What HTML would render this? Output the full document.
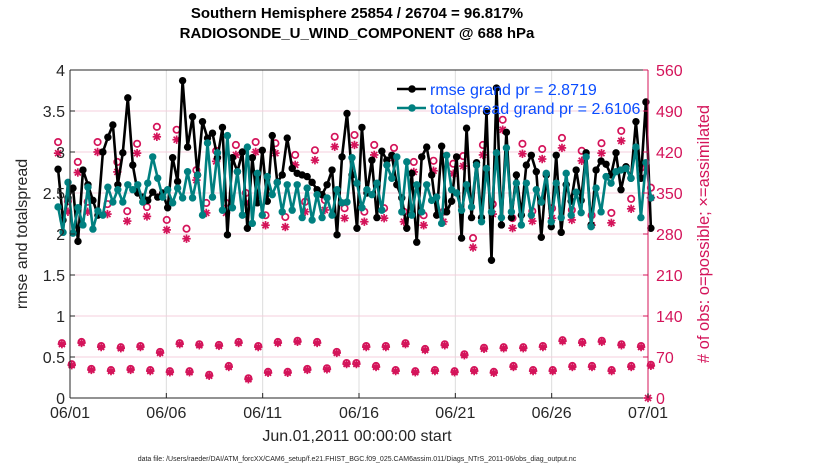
<!DOCTYPE html>
<html><head><meta charset="utf-8">
<style>
html,body{margin:0;padding:0;background:#fff;}
svg{display:block;font-family:"Liberation Sans",sans-serif;}
</style></head>
<body>
<svg id="chart" width="830" height="470" viewBox="0 0 830 470" xmlns="http://www.w3.org/2000/svg">
<text x="357" y="18" text-anchor="middle" font-size="15" font-weight="bold">Southern Hemisphere 25854 / 26704 = 96.817%</text>
<text x="357" y="38" text-anchor="middle" font-size="15" font-weight="bold">RADIOSONDE_U_WIND_COMPONENT @ 688 hPa</text>
<g id="grid"></g>
<g id="marks"></g>
<g id="axes"></g>
<text x="357" y="441" text-anchor="middle" font-size="16" fill="#262626">Jun.01,2011 00:00:00 start</text>
<text x="357" y="461" text-anchor="middle" font-size="7" fill="#262626">data file: /Users/raeder/DAI/ATM_forcXX/CAM6_setup/f.e21.FHIST_BGC.f09_025.CAM6assim.011/Diags_NTrS_2011-06/obs_diag_output.nc</text>
<text transform="translate(27,234) rotate(-90)" text-anchor="middle" font-size="16" fill="#262626">rmse and totalspread</text>
<text transform="translate(709,234) rotate(-90)" text-anchor="middle" font-size="16.5" fill="#d4145a"># of obs: o=possible; ×=assimilated</text>
<g>
  <line x1="397" y1="89" x2="426" y2="89" stroke="#000" stroke-width="2.5"/>
  <circle cx="412" cy="89" r="3.8" fill="#000"/>
  <text x="430" y="95" font-size="16" fill="#0a4cff">rmse grand pr = 2.8719</text>
  <line x1="397" y1="108" x2="426" y2="108" stroke="#008080" stroke-width="2.5"/>
  <circle cx="412" cy="108" r="3.8" fill="#008080"/>
  <text x="430" y="114" font-size="16" fill="#0a4cff">totalspread grand pr = 2.6106</text>
</g>
</svg>
<script>
const rmse=[2.79,2.17,2.44,2.56,1.91,2.78,2.6,2.41,2.23,3.0,3.18,3.33,2.6,2.99,3.66,2.84,2.5,2.45,2.41,2.51,2.45,2.5,
2.32,2.93,2.64,3.87,3.06,3.43,2.72,3.37,3.17,3.23,2.93,3.3,1.99,2.93,2.76,3.0,2.07,2.93,
2.38,3.02,2.4,3.2,2.63,2.72,3.17,2.8,2.74,2.72,2.7,2.63,2.54,2.48,2.6,2.78,1.99,2.94,3.47,
2.72,2.07,3.3,2.5,2.9,2.2,3.01,2.9,2.96,2.6,2.44,2.07,2.74,1.9,2.94,3.06,2.72,2.23,3.07,2.27,2.4,
2.94,1.95,3.29,2.2,2.87,2.2,3.49,1.68,3.78,2.11,3.24,2.2,2.72,2.23,2.84,2.96,2.76,1.96,2.72,
2.09,2.96,2.02,2.6,2.4,2.78,2.41,2.99,2.11,2.78,2.89,2.85,2.72,2.99,2.54,2.82,2.68,3.37,2.68,3.61,2.07];
const spread=[2.33,2.02,2.63,2.01,2.32,2.11,2.57,2.06,2.28,2.23,2.57,2.39,2.54,2.39,2.6,2.54,2.6,2.39,2.62,2.94,2.68,2.45,
2.54,2.38,2.56,2.44,2.76,2.44,2.72,2.23,3.11,2.45,2.99,2.29,3.2,2.32,2.76,2.23,3.06,2.13,
2.74,2.23,2.7,2.48,2.63,2.27,2.6,2.29,2.6,2.2,2.56,2.17,2.48,2.2,2.44,2.23,2.54,2.38,2.39,2.93,
2.62,2.32,2.54,2.48,2.62,2.29,2.84,2.68,2.94,2.27,2.88,2.23,2.6,2.27,2.6,2.41,2.45,2.13,2.96,2.54,
2.5,2.29,2.6,2.33,2.84,2.15,2.8,2.27,2.99,2.2,3.05,2.27,2.62,2.11,2.62,2.23,2.54,2.39,2.74,
2.15,2.62,2.2,2.74,2.23,2.51,2.26,2.94,2.09,2.56,2.27,2.7,2.62,2.76,2.78,2.8,2.68,3.06,2.2,2.87,2.44];
const possible=[437,336,403,335,437,331,403,319,434,326,463,304,458,289,389,333,422,333,432,350,437,
312,435,309,415,335,423,338,446,324,449,318,432,324,427,318,403,312,405,318,400,
413,273,432,331,475,307,434,319,425,324,444,321,422,312,435,316,456,340,393,359];
const assimilated=[418,318,385,318,420,314,386,302,418,310,446,287,441,272,372,316,404,316,415,333,420,
295,418,292,398,318,406,321,429,307,432,301,415,307,410,301,386,295,388,301,383,
396,257,415,314,458,290,417,302,408,307,427,304,405,295,418,299,439,323,376,342];
const lowerObs=[92,56,94,48,87,46,85,48,87,46,77,44,92,44,90,38,89,53,94,32,87,43,94,43,96,48,94,49,77,58,
58,87,53,87,46,92,44,82,46,90,44,73,46,84,43,85,53,85,46,87,46,97,53,94,53,96,46,90,53,87,55];
const leftTicks=[0,0.5,1,1.5,2,2.5,3,3.5,4];
const rightTicks=[0,70,140,210,280,350,420,490,560];
const dayTicks=[0,5,10,15,20,25,30];
const dayLabels=["06/01","06/06","06/11","06/16","06/21","06/26","07/01"];

const X0=70,X1=648,Y0=398,Y1=70;
const xs=d=>X0+(d/30)*(X1-X0);
const yl=v=>Y0-(v/4)*(Y0-Y1);
const yr=v=>Y0-(v/560)*(Y0-Y1);
const NS="http://www.w3.org/2000/svg";
function mk(tag,parent,attrs){const e=document.createElementNS(NS,tag);for(const k in attrs)e.setAttribute(k,attrs[k]);parent.appendChild(e);return e;}
const grid=document.getElementById('grid'),marks=document.getElementById('marks'),axes=document.getElementById('axes');
const T0=-0.62,T1=30.15;
const tAt=(i,n)=>T0+i*(T1-T0)/(n-1);

dayTicks.forEach((d,i)=>{if(i>0&&i<dayTicks.length-1){const l=mk('line',grid,{x1:xs(d),x2:xs(d),y1:Y1,y2:Y0,stroke:'#dcdcdc','stroke-width':1});

}});
rightTicks.forEach((v,i)=>{if(i>0&&i<rightTicks.length-1){const l=mk('line',grid,{x1:X0,x2:X1,y1:yr(v),y2:yr(v),stroke:'#f4cfdc','stroke-width':1});

}});

function series(vals,color,name){
  const n=vals.length;
  const pts=vals.map((v,i)=>xs(tAt(i,n)).toFixed(1)+','+yl(v).toFixed(1)).join(' ');
  const pl=mk('polyline',marks,{points:pts,fill:'none',stroke:color,'stroke-width':2.6,'stroke-linejoin':'round'});
  
  
  vals.forEach((v,i)=>{const c=mk('circle',marks,{cx:xs(tAt(i,n)),cy:yl(v),r:3.7,fill:color});
  
  });
}
const pink='#d4145a';
function star(cx,cy,name){
  const g=mk('g',marks,{stroke:pink,'stroke-width':1.7});
  
  
  const r=4.2;
  mk('line',g,{x1:cx-r,y1:cy,x2:cx+r,y2:cy});
  mk('line',g,{x1:cx,y1:cy-r,x2:cx,y2:cy+r});
  mk('line',g,{x1:cx-3,y1:cy-3,x2:cx+3,y2:cy+3});
  mk('line',g,{x1:cx-3,y1:cy+3,x2:cx+3,y2:cy-3});
}
function ring(cx,cy,name){
  const c=mk('circle',marks,{cx:cx,cy:cy,r:3.2,fill:'none',stroke:pink,'stroke-width':1.7});
  
  
}
const tObs=(i,n)=>-0.62+i*(30.15+0.62)/(n-1);
possible.forEach((v,i)=>ring(xs(tObs(i,possible.length)),yr(v),'possible-obs-marker'));
assimilated.forEach((v,i)=>star(xs(tObs(i,assimilated.length)),yr(v),'assimilated-obs-marker'));
lowerObs.forEach((v,i)=>{const x=xs(-0.42+i*(30.15+0.42)/(lowerObs.length-1));ring(x,yr(v)-1,'possible-obs-marker-low');star(x,yr(v),'assimilated-obs-marker-low');});
star(xs(30),yr(0),'zero-obs-marker');

series(rmse,'#000','rmse');
series(spread,'#008080','totalspread');

let e=mk('line',axes,{x1:X0,y1:Y1,x2:X0,y2:Y0,stroke:'#262626','stroke-width':1});

e=mk('line',axes,{x1:X0,y1:Y0,x2:X1,y2:Y0,stroke:'#262626','stroke-width':1});

e=mk('line',axes,{x1:X0,y1:Y1,x2:X1,y2:Y1,stroke:'#262626','stroke-width':1});

e=mk('line',axes,{x1:X1,y1:Y1,x2:X1,y2:Y0,stroke:pink,'stroke-width':1});

leftTicks.forEach(v=>{
  mk('line',axes,{x1:X0,x2:X0+5,y1:yl(v),y2:yl(v),stroke:'#262626'});
  const t=mk('text',axes,{x:X0-5,y:yl(v)+6,'text-anchor':'end','font-size':16,fill:'#262626'});
  t.textContent=String(v);
  
  
});
rightTicks.forEach(v=>{
  mk('line',axes,{x1:X1-5,x2:X1,y1:yr(v),y2:yr(v),stroke:pink});
  const t=mk('text',axes,{x:X1+8,y:yr(v)+6,'text-anchor':'start','font-size':16,fill:pink});
  t.textContent=String(v);
  
  
});
dayTicks.forEach((d,i)=>{
  mk('line',axes,{x1:xs(d),x2:xs(d),y1:Y0,y2:Y0-5,stroke:'#262626'});
  const t=mk('text',axes,{x:xs(d),y:Y0+20,'text-anchor':'middle','font-size':16,fill:'#262626'});
  t.textContent=dayLabels[i];
  
  
});
</script>
</body></html>
